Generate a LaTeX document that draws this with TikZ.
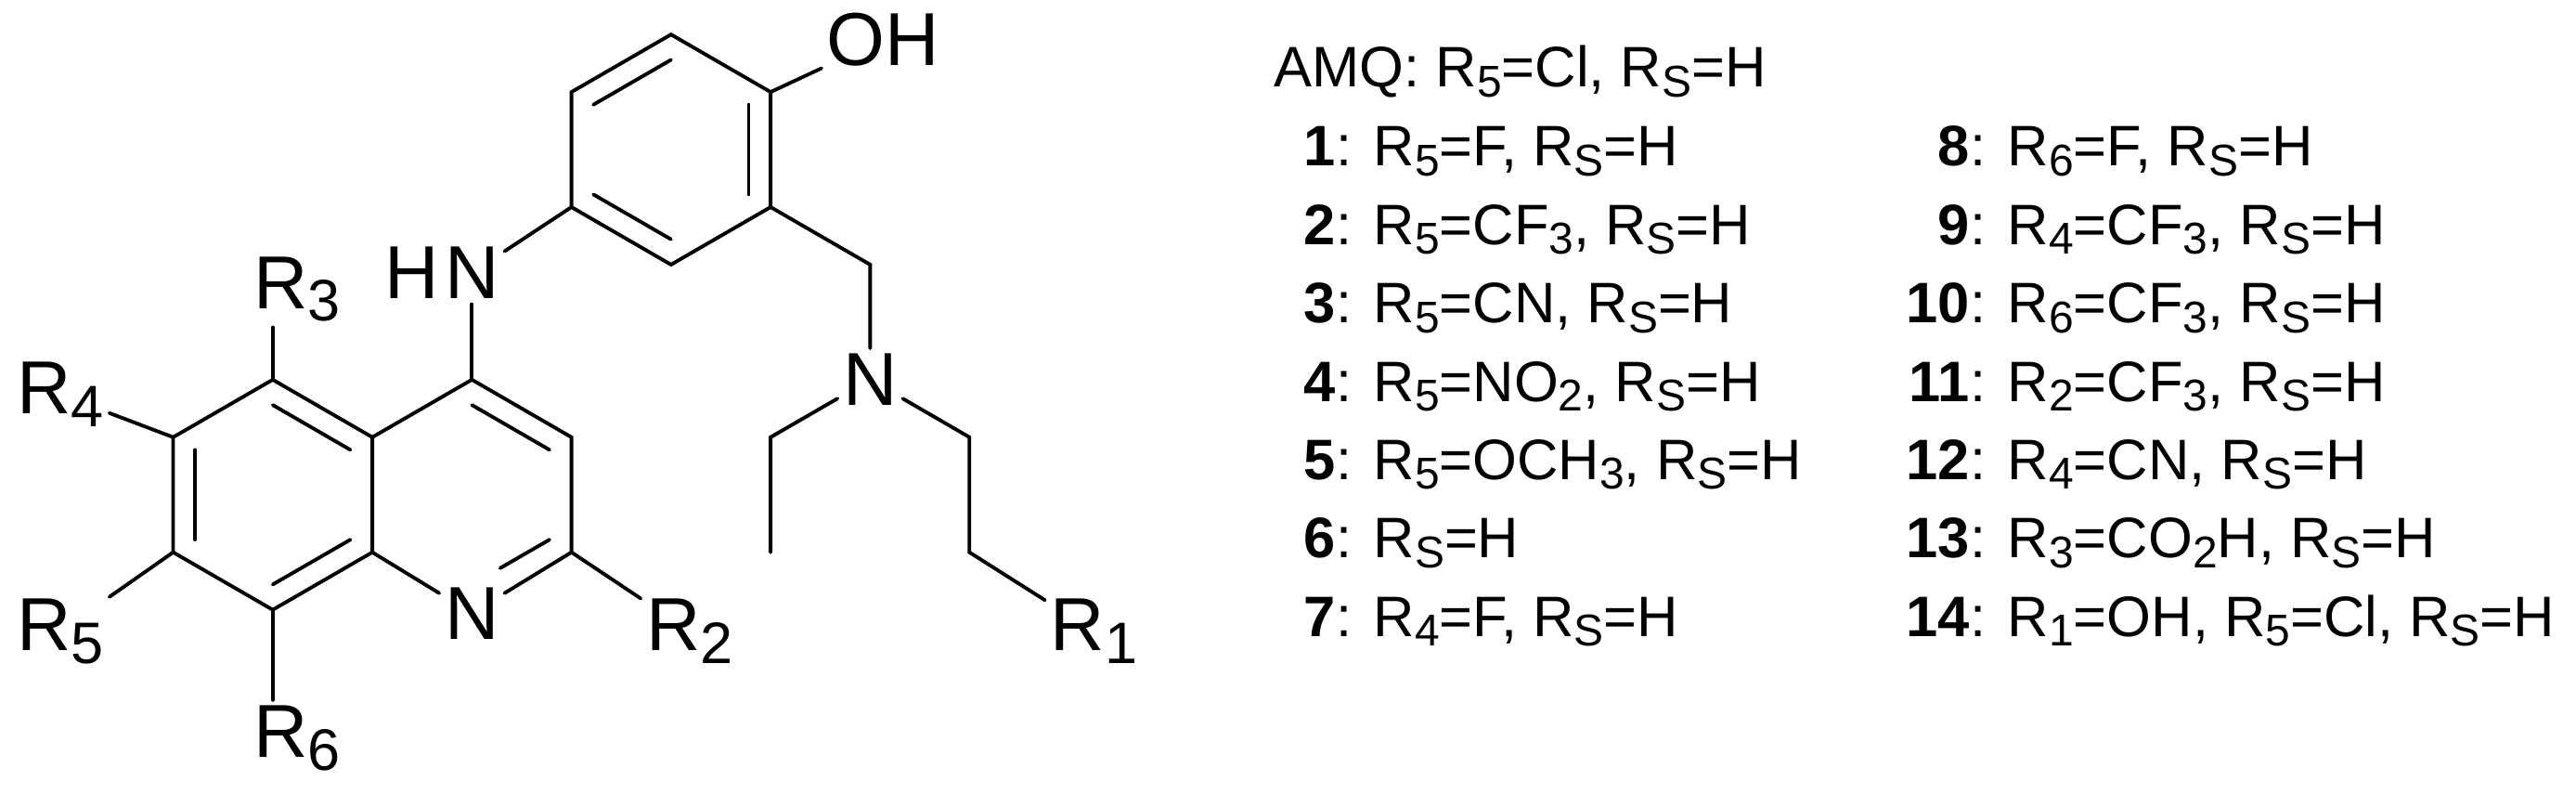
\documentclass[tikz,border=0pt]{standalone}
\usepackage{fontspec}
\setmainfont{Liberation Sans}
\usetikzlibrary{calc}
\newcommand{\sbs}[1]{\raisebox{-0.32ex}{\scalebox{0.78}{#1}}}
\begin{document}
\begin{tikzpicture}[x=0.0177cm,y=-0.0177cm,
  bond/.style={line width=1.1pt,line cap=round},
  atom/.style={font=\fontsize{23}{23}\selectfont,inner sep=1.5pt},
  lst/.style={font=\fontsize{17.5}{17.5}\selectfont,inner sep=0pt,anchor=base west},
  num/.style={font=\fontsize{17.5}{17.5}\selectfont\bfseries,inner sep=0pt,anchor=base east}]
\useasboundingbox (0,0) rectangle (1567.8,483.05);
% benzo ring
\coordinate (c5) at (166,231); \coordinate (c6) at (105.4,266);
\coordinate (c7) at (105.4,336); \coordinate (c8) at (166,371);
\coordinate (c8a) at (226.6,336); \coordinate (c4a) at (226.6,266);
\coordinate (bz) at (166,301);
% pyridine
\coordinate (c4) at (287.2,231); \coordinate (c3) at (347.8,266);
\coordinate (c2) at (347.8,336); \coordinate (n1p) at (287.2,371);
\coordinate (py) at (287.2,301);
% phenol ring
\coordinate (p1) at (347.8,126); \coordinate (p2) at (408.4,161);
\coordinate (p3) at (469,126); \coordinate (p4) at (469,56);
\coordinate (p5) at (408.4,21); \coordinate (p6) at (347.8,56);
\coordinate (ph) at (408.4,91);
% side chain
\coordinate (ch2) at (529.6,161);
\coordinate (e1) at (469,266); \coordinate (e2) at (469,336);
\coordinate (f1) at (590,266); \coordinate (f2) at (590,336);
% labels
\node[atom] (N1) at (287.2,373) {N};
\node[atom] (NH) at (287.2,166) {N};
\node[atom,anchor=east,inner sep=0pt] (H) at (NH.west) {H};
\node[atom] (Nam) at (529.6,231) {N};
\node[atom,anchor=west] (OH) at (500,24) {OH};
\node[atom,anchor=west] (R1) at (636,384) {R\sbs{1}};
\node[atom,anchor=west] (R2) at (390,384) {R\sbs{2}};
\node[atom,anchor=west] (R3) at (151,176) {R\sbs{3}};
\node[atom,anchor=west] (R4) at (7,240) {R\sbs{4}};
\node[atom,anchor=west] (R5) at (7,384) {R\sbs{5}};
\node[atom,anchor=west] (R6) at (151,449) {R\sbs{6}};
% bonds
\draw[bond] (c5)--(c6)--(c7)--(c8)--(c8a)--(c4a)--cycle;
\draw[bond] (c4a)--(c4)--(c3)--(c2);
\draw[bond] (c2)--(N1); \draw[bond] (N1)--(c8a);
\draw[bond] ($(c5)!0.22!(bz)$)--($(c4a)!0.22!(bz)$);
\draw[bond] ($(c6)!0.22!(bz)$)--($(c7)!0.22!(bz)$);
\draw[bond] ($(c8)!0.22!(bz)$)--($(c8a)!0.22!(bz)$);
\draw[bond] ($(c4)!0.22!(py)$)--($(c3)!0.22!(py)$);
\draw[bond,shorten >=10pt] ($(c2)!0.22!(py)$)--($(n1p)!0.22!(py)$);
\draw[bond] (p1)--(p2)--(p3)--(p4)--(p5)--(p6)--cycle;
\draw[bond] ($(p1)!0.22!(ph)$)--($(p2)!0.22!(ph)$);
\draw[bond] ($(p3)!0.22!(ph)$)--($(p4)!0.22!(ph)$);
\draw[bond] ($(p5)!0.22!(ph)$)--($(p6)!0.22!(ph)$);
\draw[bond] (c4)--(NH); \draw[bond] (p1)--(NH);
\draw[bond] (p4)--(OH);
\draw[bond] (p3)--(ch2)--(Nam);
\draw[bond] (Nam)--(e1)--(e2);
\draw[bond] (Nam)--(f1)--(f2)--(R1);
\draw[bond] (c2)--(R2);
\draw[bond] (c5)--(c5 |- R3.south);
\draw[bond] (c8)--(c8 |- R6.north);
\draw[bond] (c6)--(R4);
\draw[bond] (c7)--(R5);
% list
\node[lst] (amq) at (775,53) {AMQ: R\sbs{5}=Cl, R\sbs{S}=H};
\foreach \n/\t [count=\i] in {1/{R\sbs{5}=F, R\sbs{S}=H},
 2/{R\sbs{5}=CF\sbs{3}, R\sbs{S}=H},
 3/{R\sbs{5}=CN, R\sbs{S}=H},
 4/{R\sbs{5}=NO\sbs{2}, R\sbs{S}=H},
 5/{R\sbs{5}=OCH\sbs{3}, R\sbs{S}=H},
 6/{R\sbs{S}=H},
 7/{R\sbs{4}=F, R\sbs{S}=H}}{
 \node[num] (n\n) at (813,{101+47.7*(\i-1)}) {\n};
 \node[lst] (t\n) at (n\n.base east) {: \t};
}
\foreach \n/\t [count=\i] in {8/{R\sbs{6}=F, R\sbs{S}=H},
 9/{R\sbs{4}=CF\sbs{3}, R\sbs{S}=H},
 10/{R\sbs{6}=CF\sbs{3}, R\sbs{S}=H},
 11/{R\sbs{2}=CF\sbs{3}, R\sbs{S}=H},
 12/{R\sbs{4}=CN, R\sbs{S}=H},
 13/{R\sbs{3}=CO\sbs{2}H, R\sbs{S}=H},
 14/{R\sbs{1}=OH, R\sbs{5}=Cl, R\sbs{S}=H}}{
 \node[num] (n\n) at (1199,{101+47.7*(\i-1)}) {\n};
 \node[lst] (t\n) at (n\n.base east) {: \t};
}
\end{tikzpicture}
\end{document}
